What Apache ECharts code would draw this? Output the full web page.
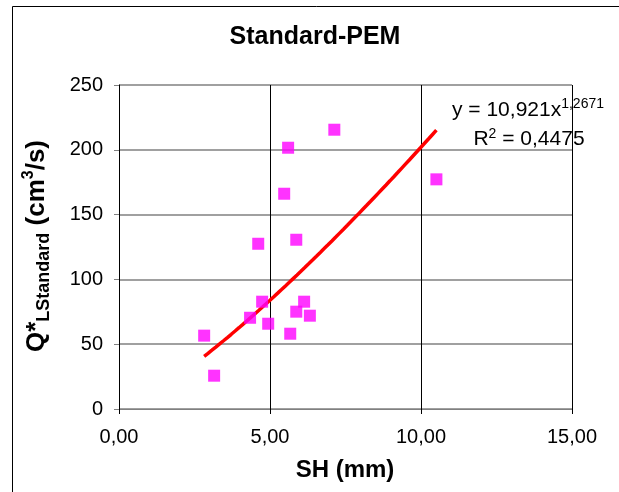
<!DOCTYPE html>
<html>
<head>
<meta charset="utf-8">
<script src="https://cdn.jsdelivr.net/npm/echarts@6/dist/echarts.min.js"></script>
<style>
html,body{margin:0;padding:0;background:#fff;}
#chart{width:619px;height:492px;}
</style>
</head>
<body>
<div id="chart"></div>
<script>
// SH (mm) values
var shX = [7.13, 5.60, 5.47, 4.61, 5.87, 4.74, 6.13, 4.34, 5.87, 6.32, 4.94, 5.67, 2.82, 3.15, 10.51];
// Q*LStandard (cm3/s) values
var qL = [215.5, 201.6, 166.1, 127.5, 130.6, 82.8, 82.8, 70.4, 75.1, 72.0, 65.8, 58.1, 56.6, 25.7, 177.2];
// axis ticks
var xTicks = [0, 5, 10, 15];
var yTicks = [0, 50, 100, 150, 200, 250];
// power trendline as printed on the chart: y = 10,921 x^1,2671
var trendA = 10.921;
var trendB = 1.2671;
var trendLabel1 = 'y = 10,921x';
var trendExp = '1,2671';
var trendR2 = '0,4475';

var points = shX.map(function (x, i) { return [x, qL[i]]; });
var xMin = Math.min.apply(null, shX), xMax = Math.max.apply(null, shX);
var trend = [];
var steps = 60;
for (var k = 0; k <= steps; k++) {
  var xv = xMin + (xMax - xMin) * k / steps;
  trend.push([xv, trendA * Math.pow(xv, trendB)]);
}

var FONT = '"Liberation Sans", Arial, sans-serif';
var chart = echarts.init(document.getElementById('chart'), null, {renderer: 'canvas'});
chart.setOption({
  animation: false,
  backgroundColor: '#ffffff',
  textStyle: {fontFamily: FONT},
  grid: {left: 119, top: 85, width: 453, height: 324, containLabel: false},
  xAxis: {
    type: 'value', min: xTicks[0], max: xTicks[xTicks.length - 1], interval: 5,
    axisLine: {show: true, onZero: false, lineStyle: {color: '#808080', width: 1}},
    axisTick: {show: true, length: 5, lineStyle: {color: '#000000'}},
    axisLabel: {margin: 18, fontSize: 20, color: '#000000', fontFamily: FONT,
      formatter: function (v) { return v.toFixed(2).replace('.', ','); }},
    splitLine: {show: true, lineStyle: {color: '#000000', width: 1}}
  },
  yAxis: {
    type: 'value', min: yTicks[0], max: yTicks[yTicks.length - 1], interval: 50,
    axisLine: {show: true, onZero: false, lineStyle: {color: '#000000', width: 1}},
    axisTick: {show: true, length: 5, lineStyle: {color: '#808080'}},
    axisLabel: {margin: 16, fontSize: 20, color: '#000000', fontFamily: FONT},
    splitLine: {show: true, lineStyle: {color: '#808080', width: 1.5}}
  },
  series: [
    {
      type: 'line', data: trend, showSymbol: false, smooth: false,
      lineStyle: {color: '#ff0000', width: 3.5}, z: 3
    },
    {
      type: 'scatter', data: points, symbol: 'rect', symbolSize: 12,
      itemStyle: {color: '#ff00ff'}, z: 4
    }
  ],
  graphic: [
    {type: 'rect', shape: {x: 12.5, y: 6.5, width: 800, height: 800}, silent: true,
      style: {fill: 'none', stroke: '#000000', lineWidth: 1}, z: 100},
    {type: 'text', x: 315, y: 37, style: {text: 'Standard-PEM', font: 'bold 25px ' + FONT,
      fill: '#000', align: 'center', verticalAlign: 'middle'}},
    {type: 'text', x: 345, y: 470, style: {text: 'SH (mm)', font: 'bold 24px ' + FONT,
      fill: '#000', align: 'center', verticalAlign: 'middle'}},
    {type: 'text', x: 37, y: 246, rotation: Math.PI / 2, style: {
      text: '{m|Q*}{s|LStandard}{m| (cm}{p|3}{m|/s)}',
      align: 'center', verticalAlign: 'middle', fill: '#000',
      rich: {
        m: {fontSize: 26, fontWeight: 'bold', fontFamily: FONT, fill: '#000', lineHeight: 32, verticalAlign: 'middle'},
        s: {fontSize: 18, fontWeight: 'bold', fontFamily: FONT, fill: '#000', lineHeight: 32, verticalAlign: 'bottom', padding: [14, 0, 0, 0]},
        p: {fontSize: 16, fontWeight: 'bold', fontFamily: FONT, fill: '#000', lineHeight: 32, verticalAlign: 'top', padding: [0, 0, 10, 0]}
      }}},
    {type: 'text', x: 528, y: 110, style: {
      text: '{m|' + trendLabel1 + '}{p|' + trendExp + '}',
      align: 'center', verticalAlign: 'middle', fill: '#000',
      rich: {
        m: {fontSize: 21, fontFamily: FONT, fill: '#000', lineHeight: 26},
        p: {fontSize: 14, fontFamily: FONT, fill: '#000', lineHeight: 26, padding: [0, 0, 12, 0]}
      }}},
    {type: 'text', x: 529, y: 139, style: {
      text: '{m|R}{p|2}{m| = ' + trendR2 + '}',
      align: 'center', verticalAlign: 'middle', fill: '#000',
      rich: {
        m: {fontSize: 21, fontFamily: FONT, fill: '#000', lineHeight: 26},
        p: {fontSize: 14, fontFamily: FONT, fill: '#000', lineHeight: 26, padding: [0, 0, 10, 0]}
      }}}
  ]
});
</script>
</body>
</html>
